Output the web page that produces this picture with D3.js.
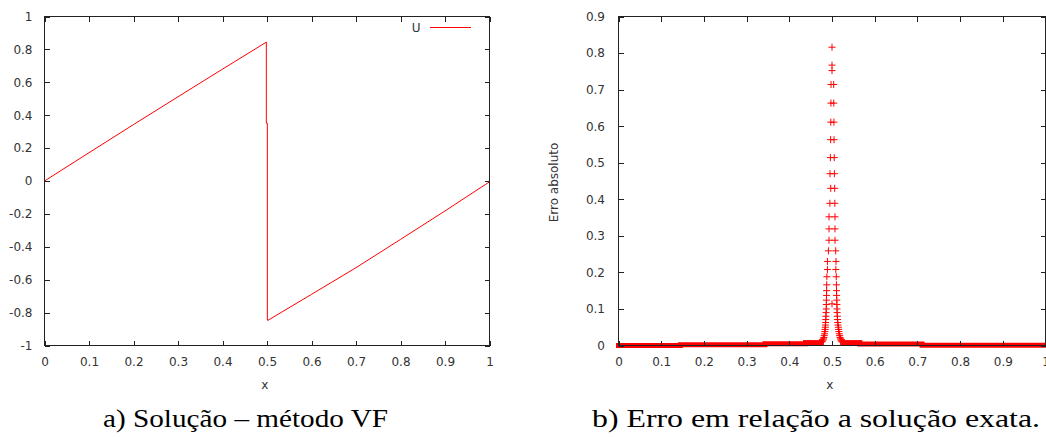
<!DOCTYPE html>
<html><head><meta charset="utf-8">
<script src="https://cdn.jsdelivr.net/npm/d3@7"></script>
<style>
html,body{margin:0;padding:0;background:#fff;}
svg{display:block;}
</style>
</head><body>
<script>
// ---------- Data: left chart (solution U) ----------
const uX = [0, 0.1, 0.2, 0.3, 0.4, 0.4985, 0.4985, 0.5008, 0.5008, 0.5015, 0.6, 0.7, 0.8, 0.9, 1.0];
const uY = [0, 0.172, 0.343, 0.512, 0.680, 0.844, 0.351, 0.351, -0.838, -0.848, -0.689, -0.527, -0.355, -0.182, -0.005];
const leftXTicks = [0, 0.1, 0.2, 0.3, 0.4, 0.5, 0.6, 0.7, 0.8, 0.9, 1];
const leftXLabels = ["0","0.1","0.2","0.3","0.4","0.5","0.6","0.7","0.8","0.9","1"];
const leftYTicks = [-1, -0.8, -0.6, -0.4, -0.2, 0, 0.2, 0.4, 0.6, 0.8, 1];
const leftYLabels = ["-1","-0.8","-0.6","-0.4","-0.2","0","0.2","0.4","0.6","0.8","1"];
const legendLabel = "U";

// ---------- Data: right chart (absolute error) ----------
// isolated markers at the centre of the peak
const peakCenterX = [0.5, 0.5, 0.5, 0.5];
const peakCenterY = [0.816, 0.767, 0.752, 0.114];
// paired markers on the left and right flanks of the peak
const flankY      = [0.714, 0.663, 0.611, 0.563, 0.514, 0.470, 0.430, 0.389, 0.352, 0.319, 0.288, 0.259, 0.230, 0.208, 0.188, 0.166,
                     0.150, 0.137, 0.124, 0.112, 0.100, 0.090, 0.080, 0.071, 0.063, 0.056, 0.050, 0.044, 0.038, 0.032, 0.027, 0.022, 0.018, 0.015, 0.012, 0.010, 0.009, 0.008];
const flankLeftX  = [0.4977, 0.4975, 0.4972, 0.4968, 0.4962, 0.4953, 0.4970, 0.4950, 0.4930, 0.4930, 0.4930, 0.4916, 0.4893, 0.4893, 0.4880, 0.4876,
                     0.4874, 0.4872, 0.4869, 0.4867, 0.4865, 0.4862, 0.4858, 0.4854, 0.4850, 0.4846, 0.4843, 0.4838, 0.4832, 0.4825, 0.4818, 0.4810, 0.4800, 0.4790, 0.4776, 0.4760, 0.4740, 0.4710];
const flankRightX = [0.5040, 0.5042, 0.5045, 0.5048, 0.5052, 0.5056, 0.5063, 0.5066, 0.5070, 0.5070, 0.5070, 0.5087, 0.5093, 0.5090, 0.5100, 0.5103,
                     0.5106, 0.5108, 0.5112, 0.5115, 0.5117, 0.5120, 0.5125, 0.5130, 0.5135, 0.5140, 0.5150, 0.5155, 0.5160, 0.5170, 0.5178, 0.5188, 0.5200, 0.5210, 0.5220, 0.5240, 0.5260, 0.5290];
// dense bands of markers along the bottom (start, end, error level)
const bandStart = [0.000, 0.145, 0.343, 0.438, 0.525, 0.565, 0.711];
const bandEnd   = [0.145, 0.343, 0.438, 0.475, 0.565, 0.711, 1.000];
const bandValue = [0.000, 0.002, 0.005, 0.008, 0.008, 0.004, 0.001];
const rightXTicks = [0, 0.1, 0.2, 0.3, 0.4, 0.5, 0.6, 0.7, 0.8, 0.9, 1];
const rightXLabels = ["0","0.1","0.2","0.3","0.4","0.5","0.6","0.7","0.8","0.9","1"];
const rightYTicks = [0, 0.1, 0.2, 0.3, 0.4, 0.5, 0.6, 0.7, 0.8, 0.9];
const rightYLabels = ["0","0.1","0.2","0.3","0.4","0.5","0.6","0.7","0.8","0.9"];
const rightYTitle = "Erro absoluto";
const xTitle = "x";
const captionA = "a) Solução – método VF";
const captionB = "b) Erro em relação a solução exata.";

// ---------- Drawing ----------
const W = 1046, H = 437;
const svg = d3.select("body").append("svg").attr("width", W).attr("height", H)
  .style("font-family", "'DejaVu Sans', sans-serif");
const RED = "#ff0000", INK = "#222", TXT = "#333";

function frameAxes(g, x, y, xt, xl, yt, yl, ypad) {
  const [x0, x1] = x.range();
  const [y0, y1] = y.range(); // y0 bottom, y1 top
  const bottom = d3.axisBottom(x).tickValues(xt).tickFormat((d,i)=>xl[i]).tickSize(-5).tickSizeOuter(0).tickPadding(11.5);
  const top = d3.axisTop(x).tickValues(xt).tickFormat("").tickSize(-5).tickSizeOuter(0);
  const left = d3.axisLeft(y).tickValues(yt).tickFormat((d,i)=>yl[i]).tickSize(-5).tickSizeOuter(0).tickPadding(ypad);
  const right = d3.axisRight(y).tickValues(yt).tickFormat("").tickSize(-5).tickSizeOuter(0);
  const axes = [
    g.append("g").attr("transform", `translate(0,${y0})`).call(bottom),
    g.append("g").attr("transform", `translate(0,${y1})`).call(top),
    g.append("g").attr("transform", `translate(${x0},0)`).call(left),
    g.append("g").attr("transform", `translate(${x1},0)`).call(right)
  ];
  axes.forEach(a => {
    a.select(".domain").remove();
    a.selectAll("line").attr("stroke", INK).attr("shape-rendering", "crispEdges");
    a.selectAll("text").attr("fill", TXT).style("font-size", "12px").style("font-family", "'DejaVu Sans', sans-serif");
  });
  g.append("rect").attr("x", x0).attr("y", y1).attr("width", x1 - x0).attr("height", y0 - y1)
    .attr("fill", "none").attr("stroke", INK).attr("shape-rendering", "crispEdges");
}

// Left chart
const gL = svg.append("g");
const xL = d3.scaleLinear().domain([0, 1]).range([44.5, 489.5]);
const yL = d3.scaleLinear().domain([-1, 1]).range([345.5, 16.5]);
const uData = uX.map((v, i) => [v, uY[i]]);
gL.append("path").datum(uData)
  .attr("d", d3.line().x(d => xL(d[0])).y(d => yL(d[1])))
  .attr("fill", "none").attr("stroke", RED).attr("stroke-width", 1);
frameAxes(gL, xL, yL, leftXTicks, leftXLabels, leftYTicks, leftYLabels, 12);
// legend
gL.append("text").attr("x", 420.5).attr("y", 31.5).attr("text-anchor", "end")
  .attr("fill", TXT).style("font-size", "12px").text(legendLabel);
gL.append("line").attr("x1", 430).attr("x2", 471).attr("y1", 27.5).attr("y2", 27.5)
  .attr("stroke", RED).attr("stroke-width", 1);
gL.append("text").attr("x", xL(0.495)).attr("y", 388.5).attr("text-anchor", "middle")
  .attr("fill", TXT).style("font-size", "12px").text(xTitle);

// Right chart
const gR = svg.append("g");
const xR = d3.scaleLinear().domain([0, 1]).range([618.5, 1045.5]);
const yR = d3.scaleLinear().domain([0, 0.9]).range([345.5, 16.5]);
const cross = "M-3.5,0H3.5M0,-3.5V3.5";
// bands
bandStart.forEach((s, i) => {
  gR.append("line")
    .attr("x1", xR(s)).attr("x2", xR(bandEnd[i]))
    .attr("y1", yR(bandValue[i])).attr("y2", yR(bandValue[i]))
    .attr("stroke", RED).attr("stroke-width", 5).attr("stroke-linecap", "square");
});
const pts = [];
peakCenterX.forEach((v, i) => pts.push([v, peakCenterY[i]]));
flankY.forEach((v, i) => { pts.push([flankLeftX[i], v]); pts.push([flankRightX[i], v]); });
gR.selectAll("path.pt").data(pts).enter().append("path").attr("class", "pt")
  .attr("d", cross)
  .attr("transform", d => `translate(${xR(d[0])},${yR(d[1])})`)
  .attr("fill", "none").attr("stroke", RED).attr("stroke-width", 1);
frameAxes(gR, xR, yR, rightXTicks, rightXLabels, rightYTicks, rightYLabels, 13.5);
gR.append("text").attr("transform", "translate(557.5,182.5) rotate(-90)").attr("text-anchor", "middle")
  .attr("fill", TXT).style("font-size", "12px").text(rightYTitle);
gR.append("text").attr("x", xR(0.495)).attr("y", 388.5).attr("text-anchor", "middle")
  .attr("fill", TXT).style("font-size", "12px").text(xTitle);

// Captions
svg.append("text").attr("x", 103).attr("y", 427).attr("textLength", 285).attr("lengthAdjust", "spacingAndGlyphs")
  .style("font-family", "'Liberation Serif', serif").style("font-size", "25px").attr("fill", "#000").text(captionA);
svg.append("text").attr("x", 592).attr("y", 427).attr("textLength", 448).attr("lengthAdjust", "spacingAndGlyphs")
  .style("font-family", "'Liberation Serif', serif").style("font-size", "25px").attr("fill", "#000").text(captionB);
</script>
</body></html>
